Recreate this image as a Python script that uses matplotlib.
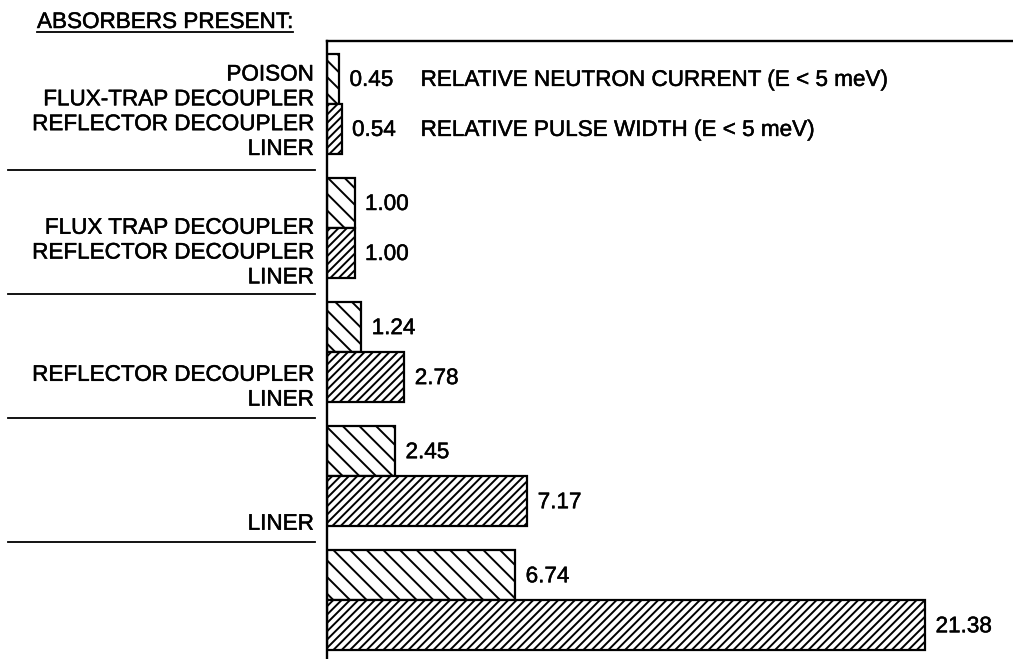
import matplotlib
matplotlib.use("Agg")
import matplotlib.pyplot as plt
from matplotlib import transforms
import matplotlib.patheffects as pe
import numpy as np

plt.rcParams['font.family'] = ['Liberation Sans', 'DejaVu Sans']
plt.rcParams['hatch.linewidth'] = 1.4

# 値
neutron_current = [0.45, 1.00, 1.24, 2.45, 6.74]
pulse_width = [0.54, 1.00, 2.78, 7.17, 21.38]
current_labels = ["0.45", "1.00", "1.24", "2.45", "6.74"]
width_labels = ["0.54", "1.00", "2.78", "7.17", "21.38"]
absorbers = [
    ["POISON", "FLUX-TRAP DECOUPLER", "REFLECTOR DECOUPLER", "LINER"],
    ["FLUX TRAP DECOUPLER", "REFLECTOR DECOUPLER", "LINER"],
    ["REFLECTOR DECOUPLER", "LINER"],
    ["LINER"],
    [],
]
legend_texts = ["RELATIVE NEUTRON CURRENT (E < 5 meV)",
                "RELATIVE PULSE WIDTH (E < 5 meV)"]
title = "ABSORBERS PRESENT:"

W, H = 1013, 659
FS = 16.2
# スキャン画像っぽく少し太らせる
thick = [pe.withStroke(linewidth=0.35, foreground='black')]

fig = plt.figure(figsize=(W / 100, H / 100), dpi=100)
ax = fig.add_axes([326.5 / W, 0, 1 - 326.5 / W, 1 - 41 / H])

y = np.arange(len(neutron_current))
h = 0.403
ax.barh(y - h / 2, neutron_current, height=h, color='white',
        edgecolor='black', hatch='\\\\', linewidth=1.6)
ax.barh(y + h / 2, pulse_width, height=h, color='white',
        edgecolor='black', hatch='////', linewidth=1.6)

for i in range(len(y)):
    ax.annotate(current_labels[i], (neutron_current[i], i - h / 2 + 0.015),
                xytext=(7.5, 0), textcoords='offset points',
                va='center', ha='left', fontsize=FS, path_effects=thick)
    ax.annotate(width_labels[i], (pulse_width[i], i + h / 2 + 0.015),
                xytext=(7.5, 0), textcoords='offset points',
                va='center', ha='left', fontsize=FS, path_effects=thick)

# 凡例の代わりのテキスト
ax.text(3.36, -h / 2 + 0.015, legend_texts[0], va='center', ha='left',
        fontsize=FS, path_effects=thick)
ax.text(3.36, h / 2 + 0.015, legend_texts[1], va='center', ha='left',
        fontsize=FS, path_effects=thick)

ax.set_xlim(0, (W - 326.5) / 28.0)
ax.set_ylim(4.476, -0.504)
ax.set_xticks([])
ax.set_yticks([])
ax.spines['right'].set_visible(False)
ax.spines['bottom'].set_visible(False)
ax.spines['left'].set_linewidth(1.7)
ax.spines['top'].set_linewidth(1.7)

# 左側のラベルと区切り線
trans = transforms.blended_transform_factory(fig.transFigure, ax.transData)
label_bottom = [0.37, 0.405, 0.39, 0.39, 0.39]
step = 0.2
for i, names in enumerate(absorbers):
    n = len(names)
    for k, name in enumerate(names):
        yy = i + label_bottom[i] - (n - 1 - k) * step
        ax.text(314 / W, yy, name, transform=trans, ha='right',
                va='center', fontsize=FS, path_effects=thick)
    if i < len(absorbers) - 1:
        ax.plot([8 / W, 315 / W], [i + 0.535, i + 0.535], transform=trans,
                color='black', lw=1.3, clip_on=False)

t = fig.text(37 / W, 1 - 28 / H, title, ha='left', va='baseline',
             fontsize=FS, path_effects=thick)
fig.canvas.draw()
bb = t.get_window_extent(fig.canvas.get_renderer())
uy = 1 - 32 / H
fig.add_artist(plt.Line2D([bb.x0 / W, bb.x1 / W], [uy, uy],
                          transform=fig.transFigure, color='black', lw=1.3))

fig.savefig("out.png", dpi=100)
